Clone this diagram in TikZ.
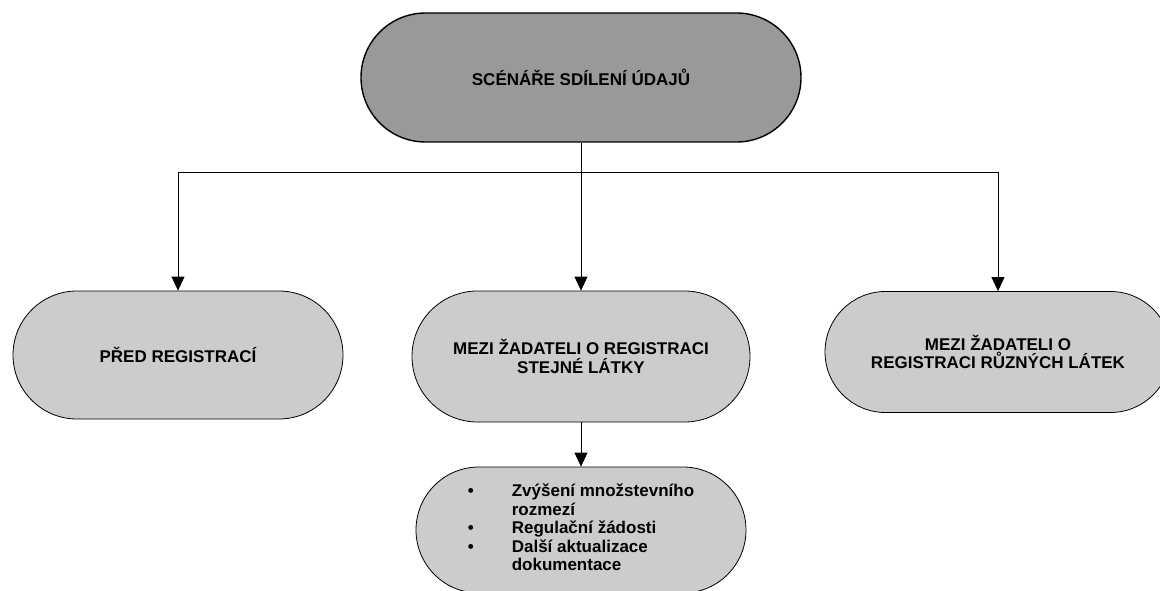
\documentclass[tikz,border=0pt]{standalone}
\usepackage{fontspec}
\setmainfont{Liberation Sans}
\usepackage{xcolor}
\usetikzlibrary{shapes.misc,arrows.meta}

\definecolor{darkfill}{HTML}{999999}
\definecolor{lightfill}{HTML}{CCCCCC}

\begin{document}
\begin{tikzpicture}[x=1pt,y=-1pt,
		pill/.style={rounded rectangle, draw=black, fill=lightfill, line width=0.8pt,
			align=center, font=\fontsize{17}{18.4}\selectfont\bfseries, inner sep=0pt},
		arr/.style={line width=0.8pt, -{Triangle[width=13pt,length=14pt]}}]
				\useasboundingbox (0,0) rectangle (1160,591);

				\node[pill, fill=darkfill, line width=1.4pt, minimum width=440pt, minimum height=129pt] (scen) at (581,77.5) {SCÉNÁŘE SDÍLENÍ ÚDAJŮ};

				\node[pill, minimum width=330pt, minimum height=128pt] (pred) at (178,355) {PŘED REGISTRACÍ};
				\node[pill, minimum width=338pt, minimum height=131pt] (stejne) at (581,356.5) {MEZI ŽADATELI O REGISTRACI\\STEJNÉ LÁTKY};
				\node[pill, minimum width=346pt, minimum height=121pt] (ruzne) at (998,352) {MEZI ŽADATELI O\\REGISTRACI RŮZNÝCH LÁTEK};

				\node[pill, minimum width=330pt, minimum height=126pt] (pripady) at (581,530) {%
					\begin{tabular}{@{}l@{\hspace{38pt}}l@{}}
						\textbullet & Zvýšení množstevního\\
						& rozmezí\\
						\textbullet & Regulační žádosti\\
						\textbullet & Další aktualizace\\
						& dokumentace
					\end{tabular}};

				\coordinate (split) at (581,172);
				\draw[arr] (scen.south) -- (stejne.north);
				\draw[arr] (split) -| (pred.north);
				\draw[arr] (split) -| (ruzne.north);
				\draw[arr] (stejne.south) -- (pripady.north);
			\end{tikzpicture}
\end{document}
